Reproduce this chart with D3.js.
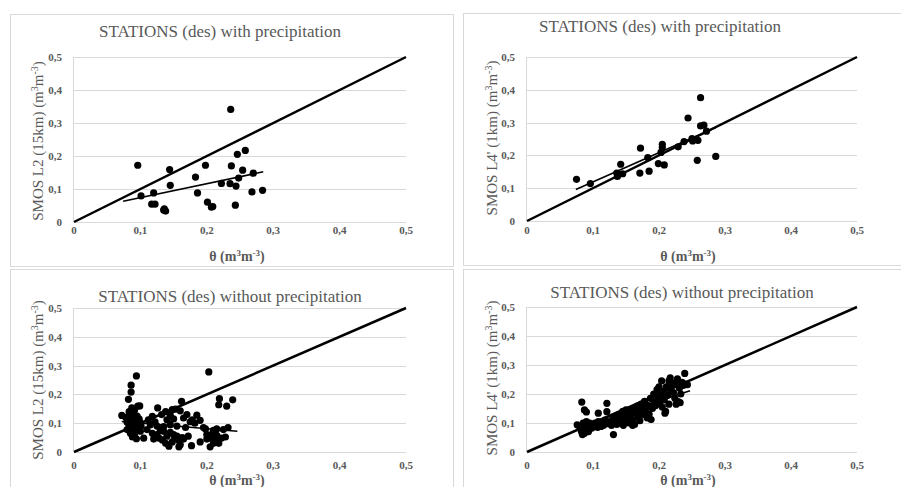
<!DOCTYPE html>
<html>
<head>
<meta charset="utf-8">
<script src="https://d3js.org/d3.v7.min.js"></script>
<style>
  html, body { margin: 0; padding: 0; background: #fff; }
  svg { display: block; }
</style>
</head>
<body>
<div id="chart"></div>
<script>
// ---- data ----
var tickValues = [0, 0.1, 0.2, 0.3, 0.4, 0.5];
var tickLabels = ["0", "0,1", "0,2", "0,3", "0,4", "0,5"];
var titles = [
    "STATIONS (des) with precipitation",
    "STATIONS (des) with precipitation",
    "STATIONS (des) without precipitation",
    "STATIONS (des) without precipitation"
];
var yTitles = ["SMOS L2 (15km) (m", "SMOS L4' (1km) (m", "SMOS L2 (15km) (m", "SMOS L4' (1km) (m"];

// theta vs SMOS L2, with precipitation
var precipL2 = [
    [0.096, 0.172], [0.101, 0.079], [0.120, 0.088], [0.117, 0.054], [0.122, 0.054],
    [0.136, 0.040], [0.138, 0.033], [0.135, 0.036], [0.144, 0.159], [0.145, 0.111],
    [0.183, 0.136], [0.186, 0.088], [0.198, 0.172], [0.201, 0.060], [0.207, 0.045],
    [0.209, 0.047], [0.222, 0.117], [0.236, 0.341], [0.237, 0.170], [0.235, 0.116],
    [0.246, 0.205], [0.244, 0.109], [0.243, 0.051], [0.248, 0.133], [0.258, 0.217],
    [0.254, 0.157], [0.268, 0.091], [0.270, 0.148], [0.284, 0.096]
];
var precipL2Trend = [[0.074, 0.063], [0.285, 0.152]];

// theta vs SMOS L4', with precipitation
var precipL4 = [
    [0.075, 0.127], [0.096, 0.114], [0.136, 0.146], [0.137, 0.136], [0.142, 0.173],
    [0.145, 0.144], [0.171, 0.146], [0.172, 0.222], [0.183, 0.193], [0.185, 0.152],
    [0.199, 0.175], [0.208, 0.171], [0.205, 0.234], [0.205, 0.224], [0.203, 0.209],
    [0.229, 0.226], [0.238, 0.242], [0.244, 0.314], [0.250, 0.251], [0.258, 0.185],
    [0.259, 0.246], [0.263, 0.376], [0.263, 0.290], [0.268, 0.292], [0.272, 0.274],
    [0.286, 0.197], [0.251, 0.244]
];
var precipL4Trend = [[0.074, 0.096], [0.286, 0.285]];

// theta vs SMOS L2, without precipitation
var dryL2 = [
    [0.094, 0.264], [0.086, 0.232], [0.086, 0.208], [0.082, 0.183], [0.096, 0.159],
    [0.087, 0.153], [0.083, 0.140], [0.091, 0.145], [0.072, 0.127], [0.078, 0.120],
    [0.085, 0.128], [0.090, 0.135], [0.095, 0.125], [0.082, 0.112], [0.088, 0.118],
    [0.093, 0.110], [0.098, 0.115], [0.080, 0.103], [0.086, 0.098], [0.092, 0.100],
    [0.097, 0.095], [0.083, 0.090], [0.089, 0.085], [0.095, 0.088], [0.080, 0.078],
    [0.087, 0.072], [0.093, 0.078], [0.085, 0.065], [0.091, 0.060], [0.088, 0.052],
    [0.094, 0.046], [0.099, 0.105], [0.101, 0.090], [0.100, 0.072], [0.105, 0.048],
    [0.099, 0.160], [0.126, 0.153], [0.148, 0.147], [0.153, 0.149], [0.138, 0.140],
    [0.160, 0.143], [0.162, 0.176], [0.132, 0.130], [0.118, 0.124], [0.145, 0.128],
    [0.170, 0.130], [0.178, 0.112], [0.185, 0.128], [0.165, 0.118], [0.150, 0.115],
    [0.140, 0.112], [0.122, 0.105], [0.112, 0.112], [0.175, 0.105], [0.182, 0.100],
    [0.190, 0.110], [0.110, 0.078], [0.118, 0.065], [0.125, 0.060], [0.128, 0.048],
    [0.133, 0.042], [0.120, 0.045], [0.138, 0.030], [0.143, 0.020], [0.148, 0.035],
    [0.152, 0.048], [0.155, 0.055], [0.158, 0.040], [0.160, 0.025], [0.163, 0.050],
    [0.140, 0.055], [0.145, 0.068], [0.135, 0.072], [0.130, 0.075], [0.150, 0.060],
    [0.165, 0.045], [0.158, 0.018], [0.177, 0.022], [0.190, 0.035], [0.172, 0.055],
    [0.168, 0.085], [0.155, 0.090], [0.145, 0.095], [0.135, 0.088], [0.125, 0.090],
    [0.115, 0.095], [0.203, 0.278], [0.219, 0.185], [0.218, 0.164], [0.230, 0.159],
    [0.239, 0.181], [0.195, 0.085], [0.200, 0.060], [0.205, 0.048], [0.210, 0.075],
    [0.212, 0.040], [0.215, 0.058], [0.218, 0.030], [0.222, 0.048], [0.205, 0.018],
    [0.225, 0.078], [0.228, 0.052], [0.232, 0.085], [0.200, 0.045], [0.208, 0.062],
    [0.215, 0.080], [0.198, 0.080], [0.210, 0.030]
];
var dryL2Trend = [[0.072, 0.106], [0.246, 0.072]];

// theta vs SMOS L4', without precipitation
var dryL4 = [
    [0.076, 0.094], [0.080, 0.085], [0.082, 0.075], [0.083, 0.068], [0.085, 0.100],
    [0.086, 0.090], [0.088, 0.080], [0.089, 0.070], [0.090, 0.105], [0.091, 0.095],
    [0.092, 0.085], [0.094, 0.078], [0.095, 0.100], [0.096, 0.090], [0.098, 0.082],
    [0.100, 0.095], [0.101, 0.088], [0.103, 0.100], [0.105, 0.092], [0.107, 0.085],
    [0.108, 0.105], [0.110, 0.095], [0.112, 0.088], [0.114, 0.100], [0.116, 0.092],
    [0.118, 0.110], [0.084, 0.060], [0.087, 0.065], [0.093, 0.070], [0.083, 0.172],
    [0.087, 0.145], [0.090, 0.138], [0.121, 0.168], [0.121, 0.139], [0.131, 0.060],
    [0.108, 0.134], [0.122, 0.098], [0.125, 0.105], [0.128, 0.092], [0.130, 0.112],
    [0.132, 0.100], [0.135, 0.120], [0.136, 0.095], [0.138, 0.108], [0.140, 0.130],
    [0.142, 0.100], [0.144, 0.115], [0.146, 0.092], [0.148, 0.125], [0.150, 0.108],
    [0.152, 0.135], [0.154, 0.100], [0.155, 0.118], [0.157, 0.145], [0.158, 0.128],
    [0.160, 0.110], [0.162, 0.150], [0.163, 0.095], [0.165, 0.135], [0.167, 0.158],
    [0.168, 0.120], [0.170, 0.145], [0.171, 0.108], [0.173, 0.165], [0.175, 0.130],
    [0.176, 0.152], [0.178, 0.175], [0.180, 0.140], [0.182, 0.118], [0.184, 0.160],
    [0.185, 0.130], [0.187, 0.185], [0.188, 0.112], [0.190, 0.150], [0.150, 0.145],
    [0.145, 0.140], [0.160, 0.092], [0.192, 0.200], [0.193, 0.172], [0.195, 0.160],
    [0.197, 0.215], [0.198, 0.185], [0.200, 0.225], [0.201, 0.170], [0.203, 0.195],
    [0.204, 0.245], [0.205, 0.155], [0.207, 0.210], [0.208, 0.180], [0.209, 0.134],
    [0.210, 0.140], [0.211, 0.225], [0.213, 0.195], [0.215, 0.165], [0.217, 0.256],
    [0.218, 0.215], [0.220, 0.230], [0.222, 0.205], [0.224, 0.185], [0.226, 0.165],
    [0.228, 0.252], [0.229, 0.174], [0.231, 0.220], [0.233, 0.200], [0.235, 0.240],
    [0.237, 0.230], [0.239, 0.271], [0.240, 0.234], [0.243, 0.232], [0.232, 0.170],
    [0.225, 0.240], [0.215, 0.245]
];
var dryL4Trend = [[0.075, 0.085], [0.247, 0.211]];

var identityLine = [[0, 0], [0.5, 0.5]];

// ---- layout ----
var panels = [
    { pts: precipL2, trend: precipL2Trend, frame: [10.5, 14.5, 443, 252],
      px: [74, 406], py: [222, 57], title: [220, 37], yt: [38, 141], xt: [237, 261], xlab: 12 },
    { pts: precipL4, trend: precipL4Trend, frame: [463.5, 13.5, 460, 252],
      px: [527, 857], py: [221, 57], title: [660, 32], yt: [492, 138], xt: [688, 261], xlab: 13 },
    { pts: dryL2, trend: dryL2Trend, frame: [10.5, 269.5, 443, 240],
      px: [74, 406], py: [452, 308], title: [230, 302], yt: [38, 380], xt: [237, 485], xlab: 17 },
    { pts: dryL4, trend: dryL4Trend, frame: [463.5, 269.5, 460, 240],
      px: [527, 857], py: [452, 307], title: [682, 298], yt: [492, 378], xt: [688, 485], xlab: 17 }
];

var svg = d3.select("#chart").append("svg")
    .attr("width", 901)
    .attr("height", 487);

var grey = "#595959";
var serif = "'Liberation Serif', 'Times New Roman', serif";

panels.forEach(function (p, i) {
    var g = svg.append("g");

    g.append("rect")
        .attr("x", p.frame[0]).attr("y", p.frame[1])
        .attr("width", p.frame[2]).attr("height", p.frame[3])
        .attr("fill", "#fff").attr("stroke", "#d9d9d9").attr("stroke-width", 1);

    var x = d3.scaleLinear().domain([0, 0.5]).range(p.px);
    var y = d3.scaleLinear().domain([0, 0.5]).range(p.py);

    // gridlines
    g.selectAll(".grid").data(tickValues).enter().append("line")
        .attr("x1", p.px[0]).attr("x2", p.px[1])
        .attr("y1", function (d) { return Math.round(y(d)) + 0.5; })
        .attr("y2", function (d) { return Math.round(y(d)) + 0.5; })
        .attr("stroke", "#d9d9d9").attr("stroke-width", 1);
    // left axis line
    g.append("line")
        .attr("x1", Math.round(p.px[0]) - 0.5).attr("x2", Math.round(p.px[0]) - 0.5)
        .attr("y1", p.py[1]).attr("y2", p.py[0])
        .attr("stroke", "#d9d9d9").attr("stroke-width", 1);

    // y tick labels
    g.selectAll(".ylab").data(tickValues).enter().append("text")
        .attr("x", p.px[0] - 12)
        .attr("y", function (d) { return y(d) + 4; })
        .attr("text-anchor", "end")
        .attr("font-family", serif).attr("font-size", 11).attr("font-weight", "bold")
        .attr("fill", grey)
        .text(function (d, j) { return tickLabels[j]; });
    // x tick labels
    g.selectAll(".xlab").data(tickValues).enter().append("text")
        .attr("x", function (d) { return x(d); })
        .attr("y", p.py[0] + p.xlab)
        .attr("text-anchor", "middle")
        .attr("font-family", serif).attr("font-size", 11).attr("font-weight", "bold")
        .attr("fill", grey)
        .text(function (d, j) { return tickLabels[j]; });

    // title
    g.append("text")
        .attr("x", p.title[0]).attr("y", p.title[1])
        .attr("text-anchor", "middle")
        .attr("font-family", serif).attr("font-size", 17)
        .attr("fill", grey)
        .text(titles[i]);

    // y axis title
    var yt = g.append("text")
        .attr("transform", "translate(" + (p.yt[0] + 5) + "," + p.yt[1] + ") rotate(-90)")
        .attr("text-anchor", "middle")
        .attr("font-family", serif).attr("font-size", 15)
        .attr("fill", grey);
    yt.append("tspan").text(yTitles[i]);
    yt.append("tspan").attr("dy", -5).attr("font-size", 10).text("3");
    yt.append("tspan").attr("dy", 5).text("m");
    yt.append("tspan").attr("dy", -5).attr("font-size", 10).text("-3");
    yt.append("tspan").attr("dy", 5).text(")");

    // x axis title
    var xt = g.append("text")
        .attr("x", p.xt[0]).attr("y", p.xt[1])
        .attr("text-anchor", "middle")
        .attr("font-family", serif).attr("font-size", 14).attr("font-weight", "bold")
        .attr("fill", grey);
    xt.append("tspan").text("\u03b8 (m");
    xt.append("tspan").attr("dy", -5).attr("font-size", 9).text("3");
    xt.append("tspan").attr("dy", 5).text("m");
    xt.append("tspan").attr("dy", -5).attr("font-size", 9).text("-3");
    xt.append("tspan").attr("dy", 5).text(")");

    var line = d3.line()
        .x(function (d) { return x(d[0]); })
        .y(function (d) { return y(d[1]); });

    // points
    g.selectAll(".pt").data(p.pts).enter().append("circle")
        .attr("cx", function (d) { return x(d[0]); })
        .attr("cy", function (d) { return y(d[1]); })
        .attr("r", 3.6)
        .attr("fill", "#000");

    // 1:1 line
    g.append("path").datum(identityLine)
        .attr("d", line)
        .attr("fill", "none").attr("stroke", "#000").attr("stroke-width", 2.5);

    // trend line
    g.append("path").datum(p.trend)
        .attr("d", line)
        .attr("fill", "none").attr("stroke", "#000").attr("stroke-width", 1.6);
});
</script>
</body>
</html>
